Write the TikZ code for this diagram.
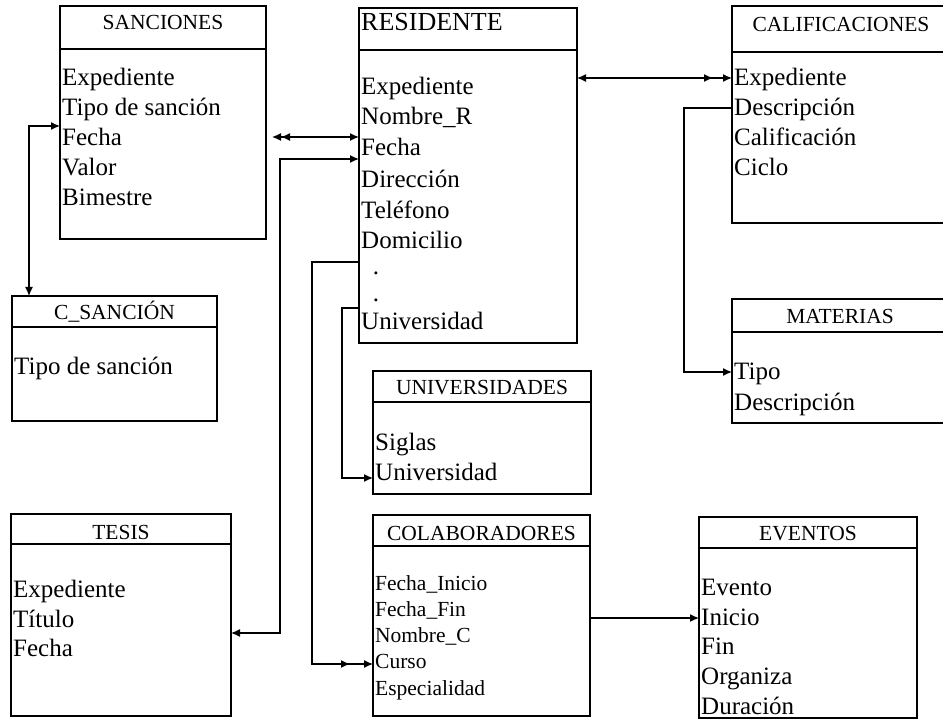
\documentclass[tikz,border=0pt]{standalone}
\usepackage{fontspec}
\setmainfont{Liberation Serif}
\usetikzlibrary{arrows.meta}
\tikzset{
  tbl/.style={draw, line width=1.4pt, inner sep=0pt, outer sep=0pt},
  opentbl/.style={inner sep=0pt, outer sep=0pt},
  hdr/.style={inner sep=0pt, anchor=base, font=\fontsize{21.5}{25}\selectfont},
  fld/.style={inner sep=0pt, anchor=base west, font=\fontsize{25}{30}\selectfont},
  sfld/.style={inner sep=0pt, anchor=base west, font=\fontsize{21.5}{26}\selectfont},
  hline/.style={line width=1.4pt},
  conn/.style={line width=1.3pt},
  tip/.tip={Latex[length=9pt,width=8pt]},
}
\begin{document}
\begin{tikzpicture}[x=1pt,y=-1pt]
\useasboundingbox (0,0) rectangle (943,719);

% ---------- tables ----------
\node[tbl, minimum width=206pt, minimum height=233pt] (san) at (163,122.5) {};
\draw[hline] (san.west |- 0,49) -- (san.east |- 0,49);
\node[hdr] (sanh) at (163,30) {SANCIONES};
\foreach \t [count=\i] in {Expediente, Tipo de sanción, Fecha, Valor, Bimestre}
  \node[fld] (san-\i) at (62,{56+30*\i}) {\t};

\node[tbl, minimum width=218pt, minimum height=335pt] (res) at (468,175.5) {};
\draw[hline] (res.west |- 0,50) -- (res.east |- 0,50);
\node[inner sep=0pt, anchor=base west, font=\fontsize{26}{30}\selectfont] (resh) at (361,31) {RESIDENTE};
\foreach \t/\y [count=\i] in {Expediente/95, Nombre\_R/125, Fecha/156, Dirección/188, Teléfono/219, Domicilio/249, Universidad/330}
  \node[fld] (res-\i) at (361,\y) {\t};
\node[fld, anchor=base] (resd1) at (376,275) {.};
\node[fld, anchor=base] (resd2) at (376,302) {.};

\node[opentbl, minimum width=214pt, minimum height=217pt] (cal) at (839,114.5) {};
\draw[hline] (cal.north east) -- (cal.north west) -- (cal.south west) -- (cal.south east);
\draw[hline] (cal.west |- 0,52) -- (cal.east |- 0,52);
\node[hdr] (calh) at (841,32) {CALIFICACIONES};
\foreach \t [count=\i] in {Expediente, Descripción, Calificación, Ciclo}
  \node[fld] (cal-\i) at (734,{56+30*\i}) {\t};

\node[opentbl, minimum width=214pt, minimum height=124pt] (mat) at (839,361) {};
\draw[hline] (mat.north east) -- (mat.north west) -- (mat.south west) -- (mat.south east);
\draw[hline] (mat.west |- 0,332) -- (mat.east |- 0,332);
\node[hdr] (math) at (840,324) {MATERIAS};
\node[fld] (mat-1) at (734,380) {Tipo};
\node[fld] (mat-2) at (734,410) {Descripción};

\node[tbl, minimum width=205pt, minimum height=125pt] (csan) at (114.5,358.5) {};
\draw[hline] (csan.west |- 0,327) -- (csan.east |- 0,327);
\node[hdr] (csanh) at (114.5,320) {C\_SANCIÓN};
\node[fld] (csan-1) at (14,375) {Tipo de sanción};

\node[tbl, minimum width=218pt, minimum height=123pt] (uni) at (482,432.5) {};
\draw[hline] (uni.west |- 0,402) -- (uni.east |- 0,402);
\node[hdr] (unih) at (482,395) {UNIVERSIDADES};
\node[fld] (uni-1) at (375,450) {Siglas};
\node[fld] (uni-2) at (375,480) {Universidad};

\node[tbl, minimum width=220pt, minimum height=202pt] (tes) at (121,615) {};
\draw[hline] (tes.west |- 0,544) -- (tes.east |- 0,544);
\node[hdr] (tesh) at (121,539) {TESIS};
\foreach \t [count=\i] in {Expediente, Título, Fecha}
  \node[fld] (tes-\i) at (13,{568+29.5*\i}) {\t};

\node[tbl, minimum width=217pt, minimum height=201pt] (col) at (481.5,615.5) {};
\draw[hline] (col.west |- 0,546) -- (col.east |- 0,546);
\node[hdr] (colh) at (481.5,540) {COLABORADORES};
\foreach \t [count=\i] in {Fecha\_Inicio, Fecha\_Fin, Nombre\_C, Curso, Especialidad}
  \node[sfld] (col-\i) at (375,{563.7+26.3*\i}) {\t};

\node[tbl, minimum width=218pt, minimum height=201pt] (eve) at (808,617.5) {};
\draw[hline] (eve.west |- 0,548) -- (eve.east |- 0,548);
\node[hdr] (eveh) at (808,540) {EVENTOS};
\foreach \t [count=\i] in {Evento, Inicio, Fin, Organiza, Duración}
  \node[fld] (eve-\i) at (701,{566+29.6*\i}) {\t};

% ---------- connectors ----------
\draw[conn, tip-tip] (san.west |- 0,126) -| (csan.north -| 29,0);
\draw[conn, {Latex[length=9pt,width=8pt,sep=6pt]Latex[length=9pt,width=8pt]}-tip]
  (san.east |- 0,137) -- (res.west |- 0,137);
\draw[conn, tip-tip] (res.west |- 0,159) -- (280,159) -- (280,633) -- (tes.east |- 0,633);
\draw[conn, -{Latex[length=9pt,width=8pt,sep=14pt]Latex[length=9pt,width=8pt]}]
  (res.west |- 0,262) -- (312,262) -- (312,664) -- (col.west |- 0,664);
\draw[conn, -tip] (res.west |- 0,308) -- (342,308) -- (342,478) -- (uni.west |- 0,478);
\draw[conn, tip-{Latex[length=9pt,width=8pt,sep=10pt]Latex[length=9pt,width=8pt]}]
  (res.east |- 0,78) -- (cal.west |- 0,78);
\draw[conn, -tip] (cal.west |- 0,108) -- (684,108) -- (684,372) -- (mat.west |- 0,372);
\draw[conn, -tip] (col.east |- 0,618) -- (eve.west |- 0,618);
\end{tikzpicture}
\end{document}
